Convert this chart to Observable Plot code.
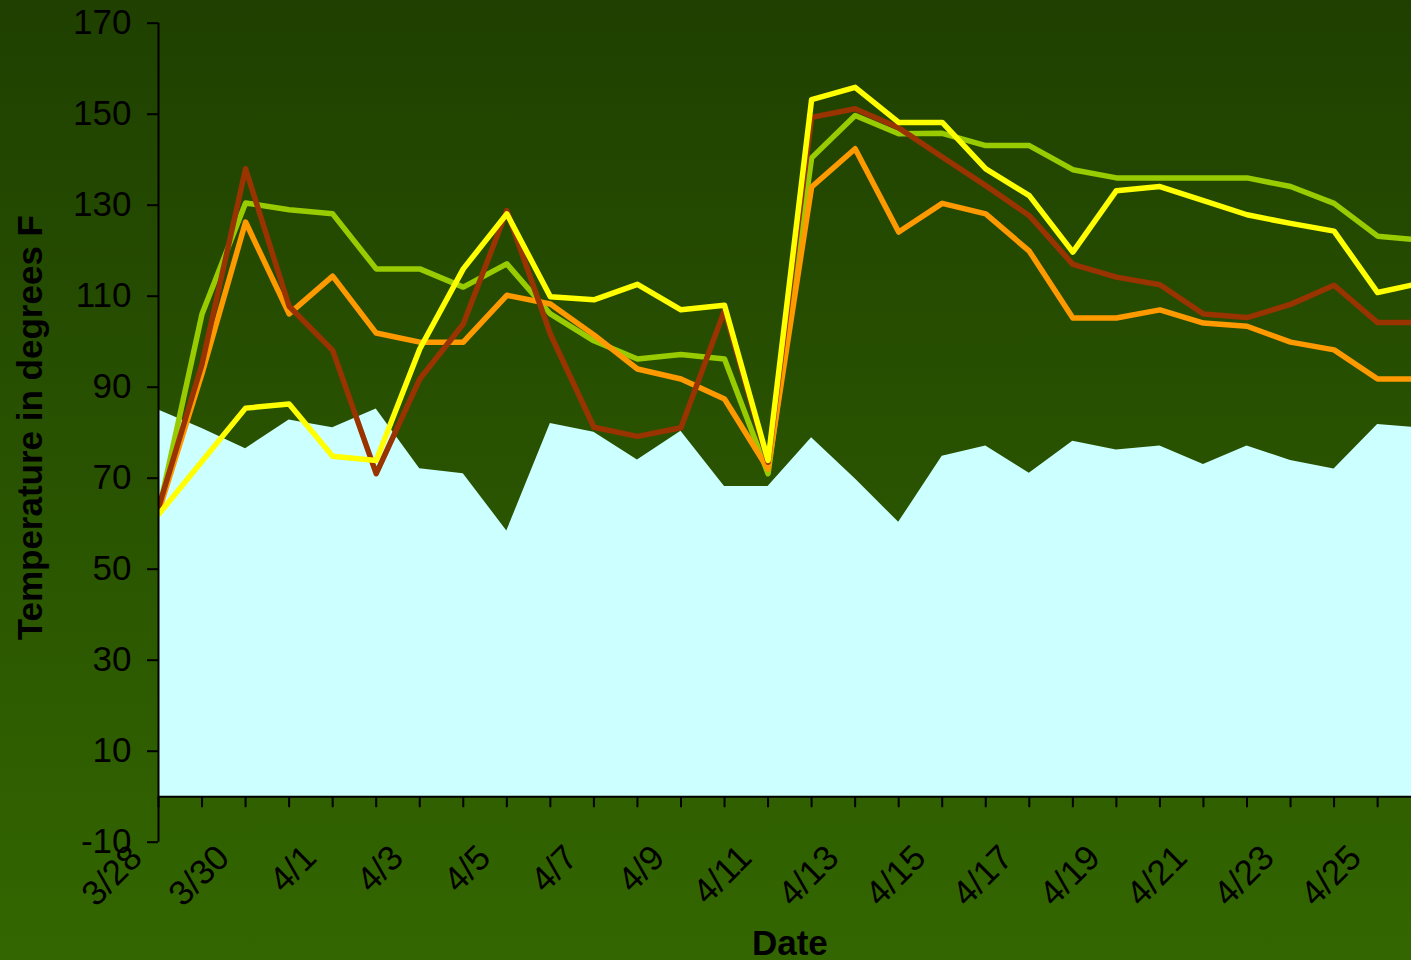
<!DOCTYPE html>
<html>
<head>
<meta charset="utf-8">
<script src="https://cdn.jsdelivr.net/npm/d3@7"></script>
<script src="https://cdn.jsdelivr.net/npm/@observablehq/plot@0.6"></script>
<style>
  html, body { margin: 0; padding: 0; overflow: hidden; }
  body { width: 1411px; height: 960px; background: linear-gradient(#1f4000, #336600); }
  #chart svg { display: block; background: transparent; }
</style>
</head>
<body>
<div id="chart"></div>
<script>
// Dates (one point per day; 4/26 lies just past the cropped right edge)
const dates = ["3/28","3/29","3/30","3/31","4/1","4/2","4/3","4/4","4/5","4/6",
               "4/7","4/8","4/9","4/10","4/11","4/12","4/13","4/14","4/15","4/16",
               "4/17","4/18","4/19","4/20","4/21","4/22","4/23","4/24","4/25","4/26"];

// Ambient temperature (light cyan area)
const ambient = [85.0, 80.9, 76.5, 82.8, 81.1, 85.2, 72.1, 71.0, 58.4, 82.0,
                 80.1, 74.0, 80.3, 68.2, 68.2, 78.9, 69.9, 60.3, 74.8, 77.1,
                 71.1, 78.1, 76.2, 77.1, 73.0, 77.1, 73.9, 72.0, 81.8, 81.0];

// Line series
const seriesA = [62.5, 106.1, 130.5, 129.0, 128.1, 116.0, 116.0, 112.0, 117.1, 106.1,
                 100.2, 96.2, 97.2, 96.2, 71.0, 140.4, 149.7, 145.7, 145.8, 143.1,
                 143.1, 137.8, 136.0, 136.0, 136.0, 136.0, 134.1, 130.4, 123.2, 122.3];
const seriesB = [62.5, 93.0, 126.3, 106.1, 114.4, 101.9, 99.9, 99.9, 110.2, 108.3,
                 101.5, 94.0, 91.8, 87.4, 72.0, 134.0, 142.4, 124.1, 130.4, 128.1,
                 119.9, 105.2, 105.2, 107.0, 104.1, 103.4, 99.9, 98.2, 91.8, 91.8];
const seriesC = [63.5, 95.1, 138.0, 107.8, 98.1, 71.0, 91.8, 103.9, 128.8, 101.7,
                 81.2, 79.2, 81.1, 106.9, 73.5, 149.3, 151.2, 147.0, 140.6, 134.3,
                 127.7, 117.0, 114.2, 112.5, 106.1, 105.3, 108.2, 112.4, 104.2, 104.2];
const seriesD = [62.0, 73.7, 85.4, 86.3, 74.8, 73.9, 98.4, 116.0, 128.1, 109.9,
                 109.2, 112.6, 107.0, 108.0, 73.9, 153.2, 155.9, 148.2, 148.2, 138.0,
                 132.1, 119.7, 133.2, 134.1, 131.0, 127.9, 126.0, 124.3, 110.8, 112.9];

const seriesNames  = ["Series A", "Series B", "Series C", "Series D"];
const seriesColors = ["#99cc00", "#ff9900", "#993300", "#ffff00"];
const seriesValues = [seriesA, seriesB, seriesC, seriesD];

const yTicks = [-10, 10, 30, 50, 70, 90, 110, 130, 150, 170];
const xLabelEvery = 2;
const xTitle = "Date";
const yTitle = "Temperature in degrees F";

// Build tables
const idx = dates.map((d, i) => i);
const ambientData = ambient.map((v, i) => ({i, v}));
const lineData = seriesNames.flatMap((name, s) => seriesValues[s].map((v, i) => ({i, v, name})));
const labelIdx = idx.filter(i => i % xLabelEvery === 0 && i < dates.length - 1);

const width = 1411, height = 960;
const marginLeft = 158, marginRight = 0, marginTop = 22.7, marginBottom = 118.3;
// visible x extent: cropped so that the last day sits just past the right edge
const dayPx = 43.54;
const xEnd = (width - marginLeft - marginRight) / dayPx;

const chart = Plot.plot({
  width, height, marginLeft, marginRight, marginTop, marginBottom,
  style: {background: "transparent", fontFamily: "'Liberation Sans', Arial, sans-serif", color: "#000", overflow: "visible"},
  x: {type: "linear", domain: [0, xEnd], axis: null},
  y: {domain: [-10, 170]},
  color: {domain: seriesNames, range: seriesColors},
  marks: [
    Plot.areaY(ambientData, {x: "i", y1: 0, y2: "v", fill: "#ccffff", clip: true}),
    Plot.ruleY([0], {stroke: "#000", strokeWidth: 2}),
    Plot.ruleX(idx.filter(i => i <= xEnd), {x: d => d, y1: 0, y2: 0, insetBottom: -11, stroke: "#000", strokeWidth: 2}),
    Plot.text(labelIdx, {x: d => d, frameAnchor: "bottom", text: i => dates[i], rotate: -45,
      textAnchor: "end", lineAnchor: "top", dx: -32, dy: 0, fontSize: 35, fill: "#000"}),
    Plot.line(lineData, {x: "i", y: "v", z: "name", stroke: "name", strokeWidth: 5.5, clip: true}),
    Plot.ruleX([0], {y1: -10, y2: 170, stroke: "#000", strokeWidth: 2}),
    Plot.axisY({ticks: yTicks, tickSize: 11, tickPadding: 16, tickFormat: d => String(d),
      fontSize: 35, stroke: "#000", strokeWidth: 2, fill: "#000", label: null}),
    Plot.text([xTitle], {x: (dates.length - 1) / 2, frameAnchor: "bottom", text: d => d,
      lineAnchor: "bottom", dy: 113, fontSize: 35, fontWeight: "bold", fill: "#000"}),
    Plot.text([yTitle], {frameAnchor: "left", text: d => d, rotate: -90, textAnchor: "middle",
      lineAnchor: "bottom", dx: -117, dy: -5, fontSize: 35, fontWeight: "bold", fill: "#000"})
  ]
});
document.getElementById("chart").appendChild(chart);
</script>
</body>
</html>
